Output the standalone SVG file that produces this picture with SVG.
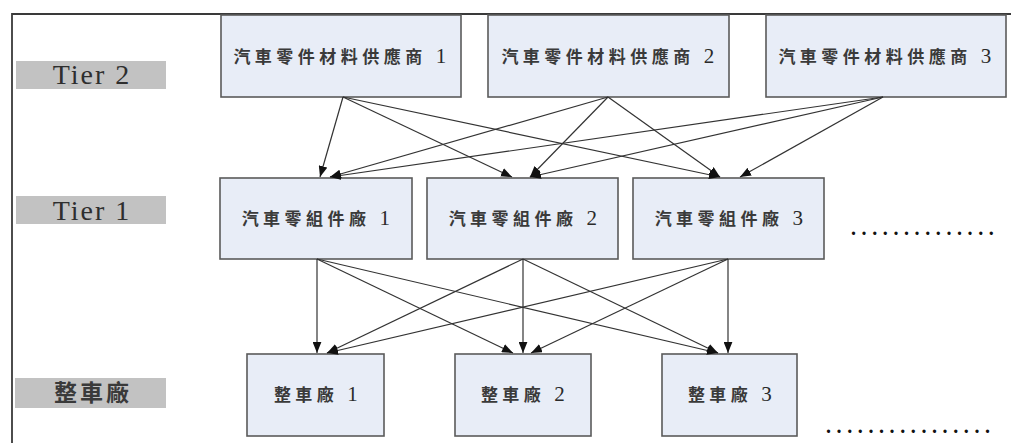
<svg xmlns="http://www.w3.org/2000/svg" width="1011" height="443" viewBox="0 0 1011 443">
<defs>
<marker id="ah" viewBox="0 0 10 8" refX="10" refY="4" markerWidth="11" markerHeight="9" markerUnits="userSpaceOnUse" orient="auto">
<path d="M0,0 L10,4 L0,8 Z" fill="#111"/>
</marker>
</defs>
<style>
.box{fill:#e8edf7;stroke:#5a5a5a;stroke-width:1.6}
.bar{fill:#c2c2c2}
.lbl{font-family:"Liberation Serif","Noto Sans CJK TC",serif;font-size:28px;letter-spacing:2px;fill:#2e2e2e;text-anchor:middle}
.lblc{font-family:"Liberation Serif","Noto Sans CJK TC",serif;font-size:23px;letter-spacing:3px;font-weight:bold;fill:#3a3a3a;text-anchor:middle}
.t{font-family:"Liberation Serif","Noto Sans CJK TC",serif;font-size:17px;letter-spacing:4.5px;font-weight:bold;fill:#3a3a3a;text-anchor:middle}
.d{font-size:21px;font-weight:normal;fill:#2a2a2a}
.dots{font-family:"Liberation Serif",serif;font-size:20px;font-weight:bold;letter-spacing:5.6px;fill:#111}
.c line{stroke:#333;stroke-width:1.2;marker-end:url(#ah)}
.frame{stroke:#3a3a3a;stroke-width:1.8;fill:none}
</style>
<path class="frame" d="M12,443 L12,14 L1011,14"/>
<g id="label-tier2"><rect class="bar" x="16" y="61" width="150" height="28"/><text class="lbl" x="92" y="84">Tier 2</text></g>
<g id="label-tier1"><rect class="bar" x="16" y="196" width="150" height="28"/><text class="lbl" x="92" y="220">Tier 1</text></g>
<g id="label-oem"><rect class="bar" x="15" y="378" width="151" height="30"/><text class="lblc" x="93" y="401">整車廠</text></g>
<g id="s1"><rect class="box" x="221" y="15" width="240" height="82"/><text class="t" x="342" y="63">汽車零件材料供應商 <tspan class="d">1</tspan></text></g>
<g id="s2"><rect class="box" x="488" y="15" width="241" height="82"/><text class="t" x="610" y="63">汽車零件材料供應商 <tspan class="d">2</tspan></text></g>
<g id="s3"><rect class="box" x="766" y="15" width="240" height="82"/><text class="t" x="887" y="63">汽車零件材料供應商 <tspan class="d">3</tspan></text></g>
<g id="p1"><rect class="box" x="220" y="178" width="192" height="81"/><text class="t" x="318" y="225">汽車零組件廠 <tspan class="d">1</tspan></text></g>
<g id="p2"><rect class="box" x="427" y="178" width="191" height="81"/><text class="t" x="525" y="225">汽車零組件廠 <tspan class="d">2</tspan></text></g>
<g id="p3"><rect class="box" x="633" y="178" width="191" height="81"/><text class="t" x="731" y="225">汽車零組件廠 <tspan class="d">3</tspan></text></g>
<g id="o1"><rect class="box" x="247" y="354" width="137" height="82"/><text class="t" x="318" y="401">整車廠 <tspan class="d">1</tspan></text></g>
<g id="o2"><rect class="box" x="455" y="354" width="136" height="82"/><text class="t" x="525" y="401">整車廠 <tspan class="d">2</tspan></text></g>
<g id="o3"><rect class="box" x="662" y="354" width="135" height="82"/><text class="t" x="732" y="401">整車廠 <tspan class="d">3</tspan></text></g>
<g id="more"><text class="dots" x="851" y="235">..............</text><text class="dots" x="826" y="433">................</text></g>
<g class="c" id="connectors">
<line x1="343" y1="97" x2="320" y2="177"/>
<line x1="343" y1="97" x2="512" y2="177"/>
<line x1="343" y1="97" x2="720" y2="177"/>
<line x1="608" y1="97" x2="330" y2="177"/>
<line x1="608" y1="97" x2="530" y2="177"/>
<line x1="608" y1="97" x2="720" y2="177"/>
<line x1="883" y1="97" x2="330" y2="177"/>
<line x1="883" y1="97" x2="530" y2="177"/>
<line x1="883" y1="97" x2="740" y2="177"/>
<line x1="317" y1="259" x2="317" y2="353"/>
<line x1="317" y1="259" x2="513" y2="353"/>
<line x1="317" y1="259" x2="718" y2="353"/>
<line x1="523" y1="259" x2="327" y2="353"/>
<line x1="523" y1="259" x2="523" y2="353"/>
<line x1="523" y1="259" x2="718" y2="353"/>
<line x1="728" y1="259" x2="327" y2="353"/>
<line x1="728" y1="259" x2="531" y2="353"/>
<line x1="728" y1="259" x2="728" y2="353"/>
</g>
</svg>
